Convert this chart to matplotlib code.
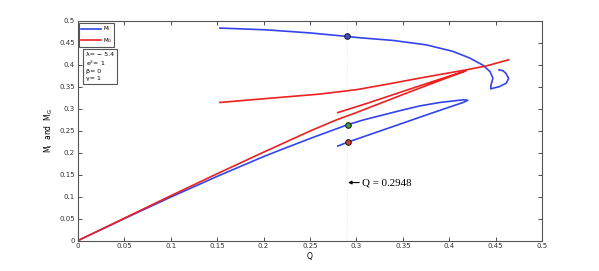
import numpy as np
import matplotlib
matplotlib.use("Agg")
import matplotlib.pyplot as plt
from matplotlib.lines import Line2D

# M_I (blue) branches
mi_upper_q = [0.153, 0.203, 0.25, 0.29, 0.3036, 0.339, 0.375, 0.404, 0.422, 0.436, 0.444, 0.447,
              0.445, 0.4446, 0.454, 0.4615, 0.464, 0.461, 0.458, 0.4535]
mi_upper_m = [0.483, 0.479, 0.472, 0.464, 0.461, 0.455, 0.445, 0.430, 0.415, 0.399, 0.384, 0.369,
              0.354, 0.345, 0.350, 0.358, 0.369, 0.380, 0.386, 0.388]
mi_lower_q = [0.0, 0.05, 0.10, 0.15, 0.20, 0.215, 0.25, 0.29, 0.307, 0.35, 0.368, 0.39, 0.415,
              0.42, 0.415, 0.38, 0.35, 0.291, 0.280]
mi_lower_m = [0.0, 0.050, 0.099, 0.146, 0.191, 0.2035, 0.232, 0.263, 0.274, 0.297, 0.306, 0.314, 0.320,
              0.319, 0.314, 0.289, 0.267, 0.224, 0.215]

# M_G (red) branches
mg_upper_q = [0.153, 0.207, 0.2605, 0.30, 0.332, 0.37, 0.418, 0.44, 0.464]
mg_upper_m = [0.314, 0.3236, 0.333, 0.343, 0.355, 0.370, 0.388, 0.397, 0.411]
mg_lower_q = [0.0, 0.05, 0.10, 0.15, 0.20, 0.25, 0.278, 0.30, 0.35, 0.38, 0.418,
              0.412, 0.38, 0.35, 0.31, 0.280]
mg_lower_m = [0.0, 0.051, 0.102, 0.152, 0.201, 0.249, 0.274, 0.291, 0.332, 0.356, 0.386,
              0.382, 0.360, 0.339, 0.311, 0.291]

# marked points at Q = 0.2948
pt_q = [0.29, 0.291, 0.291]
pt_m = [0.464, 0.263, 0.224]
pt_colors = ["#3a50d8", "#3aa040", "#e03a2a"]

blue = "#3344ee"
red = "#ee2020"

fig = plt.figure(figsize=(5.99, 2.71), dpi=100)
ax = fig.add_axes([0.130, 0.112, 0.775, 0.812])

ax.axvline(0.29, color="#e4e4e4", ls=":", lw=0.6, zorder=0)
ax.plot(mi_upper_q, mi_upper_m, color=blue, lw=1.2)
ax.plot(mi_lower_q, mi_lower_m, color=blue, lw=1.2)
ax.plot(mg_upper_q, mg_upper_m, color=red, lw=1.2)
ax.plot(mg_lower_q, mg_lower_m, color=red, lw=1.2)
for q, m, c in zip(pt_q, pt_m, pt_colors):
    ax.plot(q, m, 'o', ms=4, mfc=c, mec="#222222", mew=0.8)

ax.set_xlim(0, 0.5)
ax.set_ylim(0, 0.5)
ax.set_xticks(np.arange(0, 0.501, 0.05))
ax.set_yticks(np.arange(0, 0.501, 0.05))
ax.set_xticklabels(["0", "0.05", "0.1", "0.15", "0.2", "0.25", "0.3", "0.35", "0.4", "0.45", "0.5"])
ax.set_yticklabels(["0", "0.05", "0.1", "0.15", "0.2", "0.25", "0.3", "0.35", "0.4", "0.45", "0.5"])
ax.tick_params(direction='in', top=True, right=True, labelsize=5, length=3, width=0.6, pad=2, colors="#333333")
for s in ax.spines.values():
    s.set_color("#555555")
    s.set_linewidth(0.8)

ax.set_xlabel("Q", fontsize=5.5, labelpad=2)
ax.set_ylabel(r"M$_{\mathrm{I}}$  and  M$_{\mathrm{G}}$", fontsize=5.5, labelpad=3)

handles = [Line2D([0], [0], color=blue, lw=1.2), Line2D([0], [0], color=red, lw=1.2)]
leg = ax.legend(handles, [r"M$_{\mathrm{I}}$", r"M$_{\mathrm{G}}$"], loc="upper left",
                bbox_to_anchor=(0.002, 0.992), fontsize=4, handlelength=3.6, handletextpad=0.3,
                borderpad=0.3, labelspacing=0.5, borderaxespad=0.1, fancybox=False, framealpha=1,
                edgecolor="#555555")
leg.get_frame().set_linewidth(0.8)

ax.text(0.017, 0.858, "λ= − 5.4\ne$^2$= 1\nβ= 0\nγ= 1     ", transform=ax.transAxes,
        fontsize=4.5, va="top", ha="left", linespacing=1.3,
        bbox=dict(boxstyle="square,pad=0.5", fc="white", ec="#555555", lw=0.8))
ax.annotate("Q = 0.2948", xy=(0.291, 0.132), xytext=(0.306, 0.132),
            fontsize=7.8, family="Liberation Serif", va="center", ha="left",
            arrowprops=dict(arrowstyle="-|>", color="black", lw=0.8, mutation_scale=5, shrinkA=0, shrinkB=0))

fig.savefig("out.png", dpi=100)
